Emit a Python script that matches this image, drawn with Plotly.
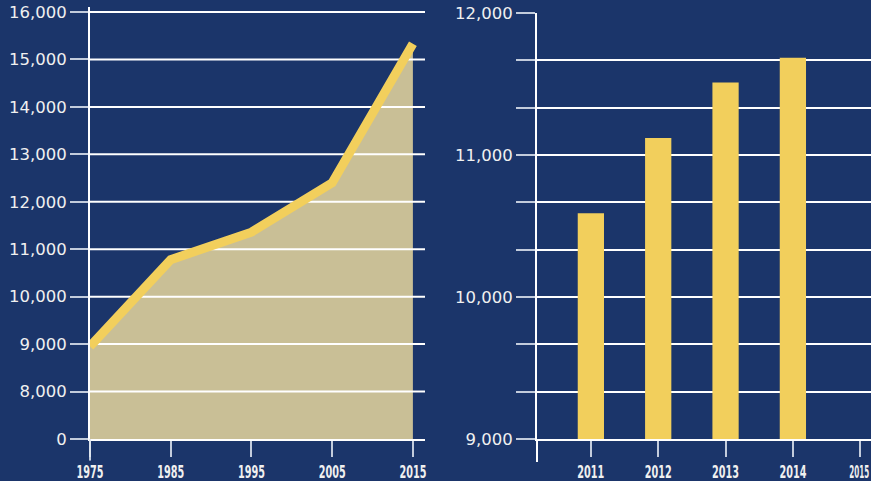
import plotly.graph_objects as go

# ---------------- data ----------------
line_years = [1975, 1985, 1995, 2005, 2015]
line_values = [8950, 10780, 11360, 12400, 15330]

left_tickvals = [7000, 8000, 9000, 10000, 11000, 12000, 13000, 14000, 15000, 16000]
left_ticktext = ["0", "8,000", "9,000", "10,000", "11,000", "12,000", "13,000", "14,000", "15,000", "16,000"]

bar_years = [2011, 2012, 2013, 2014]
bar_values = [10590, 11120, 11510, 11685]
bar_axis_years = [2011, 2012, 2013, 2014, 2015]

right_tickvals = [9000 + i * 1000 / 3 for i in range(10)]
right_ticktext = ["9,000", "", "", "10,000", "", "", "11,000", "", "", "12,000"]

# ---------------- style ----------------
BG = "#1b356a"
FILL = "#c9bf96"
YELLOW = "#f2cf5c"
WHITE = "#ffffff"
TICKC = "rgba(225,230,240,0.85)"
LABEL_FONT = dict(family="DejaVu Sans, Arial, sans-serif", size=16.5, color="#f0f0f0")
YEAR_FONT = dict(family="DejaVu Sans Condensed, Liberation Sans Narrow, Arial Narrow, sans-serif",
                 size=17.5, color="#f0f0f0", weight="bold")

left_xrange = [1975, 2016.5]
left_yrange = [7000, 16100]

fig = go.Figure()

# area fill
fig.add_trace(go.Scatter(x=line_years, y=line_values, mode="lines", fill="tozeroy",
                         fillcolor=FILL, line=dict(width=0, color=FILL),
                         xaxis="x", yaxis="y", hoverinfo="skip", showlegend=False))

# gridlines drawn above the fill (built from tick values)
gx, gy = [], []
for v in left_tickvals[1:]:
    gx += [left_xrange[0], left_xrange[1], None]
    gy += [v, v, None]
fig.add_trace(go.Scatter(x=gx, y=gy, mode="lines", line=dict(color=WHITE, width=2),
                         xaxis="x", yaxis="y", hoverinfo="skip", showlegend=False))

# yellow line
fig.add_trace(go.Scatter(x=line_years, y=line_values, mode="lines",
                         line=dict(color=YELLOW, width=9),
                         xaxis="x", yaxis="y", showlegend=False))

# bars
fig.add_trace(go.Bar(x=bar_years, y=bar_values, marker=dict(color=YELLOW, line=dict(width=0)),
                     width=0.39, xaxis="x2", yaxis="y2", showlegend=False))

fig.update_layout(
    width=871, height=481, autosize=False,
    margin=dict(l=0, r=0, t=0, b=0, pad=0),
    paper_bgcolor=BG, plot_bgcolor="rgba(0,0,0,0)",
    xaxis=dict(domain=[0.10333, 0.48795], range=left_xrange, tickvals=line_years,
               ticktext=[str(y) for y in line_years], showgrid=False, zeroline=False,
               showline=True, linecolor=WHITE, linewidth=2, automargin=False,
               ticklabeloverflow="allow",
               ticks="outside", ticklen=16, tickwidth=2, tickcolor=TICKC,
               tickfont=YEAR_FONT),
    yaxis=dict(domain=[0.08732, 0.98491], range=left_yrange, tickvals=left_tickvals,
               ticktext=left_ticktext, showgrid=False, zeroline=False,
               showline=True, linecolor=WHITE, linewidth=2, automargin=False,
               ticks="outside", ticklen=18, tickwidth=2, tickcolor=TICKC,
               tickfont=LABEL_FONT),
    xaxis2=dict(domain=[0.61653, 1.0], range=[2010.2, 2015.16], anchor="y2",
                tickvals=bar_axis_years, ticktext=[str(y) for y in bar_axis_years],
                showgrid=False, zeroline=False, showline=True, linecolor=WHITE, linewidth=2,
                automargin=False, ticklabeloverflow="allow",
                ticks="outside", ticklen=16, tickwidth=2, tickcolor=TICKC,
                tickfont=YEAR_FONT),
    yaxis2=dict(domain=[0.08732, 0.97297], range=[9000, 12000], anchor="x2",
                tickvals=right_tickvals, ticktext=right_ticktext,
                showgrid=True, gridcolor=WHITE, gridwidth=2, zeroline=False,
                showline=True, linecolor=WHITE, linewidth=2, automargin=False,
                ticks="outside", ticklen=19, tickwidth=2, tickcolor=TICKC,
                tickfont=LABEL_FONT),
    shapes=[
        dict(type="line", xref="x domain", yref="y domain", x0=0, x1=0, y0=0, y1=-0.05,
             line=dict(color=TICKC, width=2)),
        dict(type="line", xref="x2 domain", yref="y2 domain", x0=0, x1=0, y0=0, y1=-0.054,
             line=dict(color=WHITE, width=2)),
    ],
)

post = """
document.body.style.margin='0';document.body.style.padding='0';
document.body.style.overflow='hidden';
var gd=document.getElementById('{plot_id}');
gd.querySelectorAll('.xtick text, .x2tick text').forEach(function(t){
  t.setAttribute('textLength','27');
  t.setAttribute('lengthAdjust','spacingAndGlyphs');
});
var x2=gd.querySelectorAll('.x2tick text');
if (x2.length) {
  var last=x2[x2.length-1];
  var xx=parseFloat(last.getAttribute('x'))||0;
  last.setAttribute('textLength','20');
  last.setAttribute('text-anchor','end');
  last.setAttribute('x', String(xx+9));
}
"""

fig.write_html("out.html", config={"displayModeBar": False}, post_script=post)
